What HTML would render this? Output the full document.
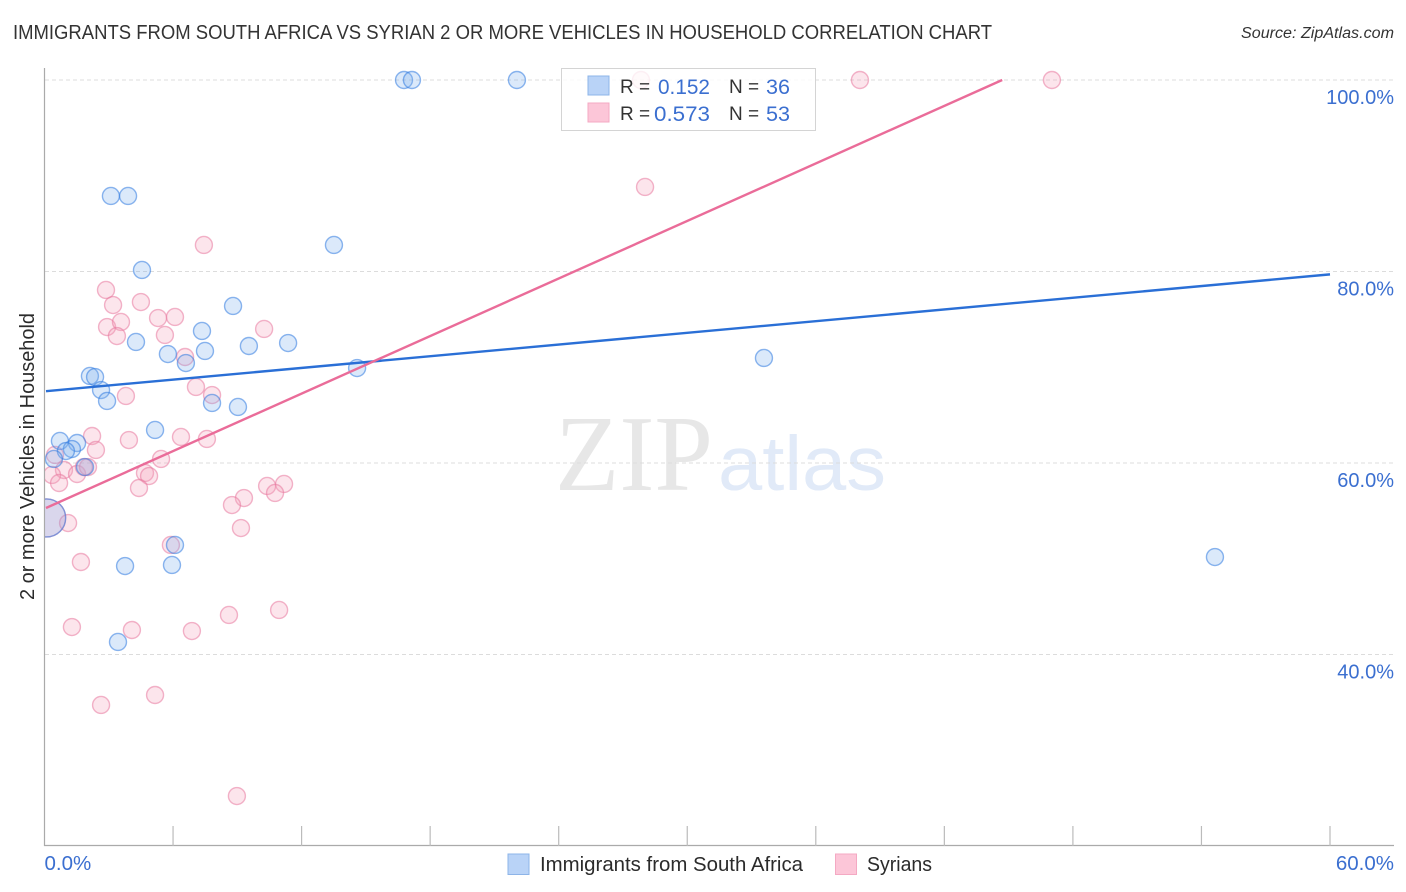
<!DOCTYPE html>
<html lang="en">
<head>
<meta charset="utf-8">
<title>Immigrants from South Africa vs Syrian 2 or more Vehicles in Household Correlation Chart</title>
<style>
html,body{margin:0;padding:0;background:#fff;width:1406px;height:892px;overflow:hidden}
svg{display:block}
text{font-family:"Liberation Sans",sans-serif}
</style>
</head>
<body>
<svg id="chart" width="1406" height="892" viewBox="0 0 1406 892" xmlns="http://www.w3.org/2000/svg">
  <defs>
    <clipPath id="plot-clip"><rect x="45" y="60" width="1349" height="786"/></clipPath>
  </defs>
  <text x="13" y="39" font-size="20" fill="#333" textLength="979" lengthAdjust="spacingAndGlyphs">IMMIGRANTS FROM SOUTH AFRICA VS SYRIAN 2 OR MORE VEHICLES IN HOUSEHOLD CORRELATION CHART</text>
  <text x="1241" y="38" font-size="15.5" font-style="italic" fill="#333" textLength="153" lengthAdjust="spacingAndGlyphs">Source: ZipAtlas.com</text>

  <g>
    <text x="555" y="490" font-size="108" fill="#e7e7e7" textLength="158" lengthAdjust="spacingAndGlyphs" style="font-family:'Liberation Serif',serif">ZIP</text>
    <text x="718" y="490" font-size="77" fill="#e1eaf8" textLength="168" lengthAdjust="spacingAndGlyphs">atlas</text>
  </g>

  <g id="grid"></g>
  <g id="axes"></g>
  <g id="points" clip-path="url(#plot-clip)"></g>
  <g id="trends"></g>

  <g>
    <rect x="561.5" y="68.5" width="254" height="62" fill="#fff" fill-opacity="0.8" stroke="#d4d4d4"/>
    <rect x="588" y="76" width="21" height="19" fill="#b9d3f7" stroke="#8db4e8"/>
    <rect x="588" y="103" width="21" height="19" fill="#fcc6d8" stroke="#f4a9c3"/>
    <text x="620" y="93" font-size="19" fill="#333">R =</text>
    <text x="710" y="94" font-size="21" fill="#3b6fd0" text-anchor="end" textLength="52" lengthAdjust="spacingAndGlyphs">0.152</text>
    <text x="729" y="93" font-size="19" fill="#333">N =</text>
    <text x="766" y="94" font-size="21" fill="#3b6fd0" textLength="24" lengthAdjust="spacingAndGlyphs">36</text>
    <text x="620" y="120" font-size="19" fill="#333">R =</text>
    <text x="710" y="121" font-size="21" fill="#3b6fd0" text-anchor="end" textLength="56" lengthAdjust="spacingAndGlyphs">0.573</text>
    <text x="729" y="120" font-size="19" fill="#333">N =</text>
    <text x="766" y="121" font-size="21" fill="#3b6fd0" textLength="24" lengthAdjust="spacingAndGlyphs">53</text>
  </g>

  <text transform="translate(34,456.5) rotate(-90)" font-size="20" fill="#2b2b2b" text-anchor="middle" textLength="287" lengthAdjust="spacingAndGlyphs">2 or more Vehicles in Household</text>

  <g>
    <rect x="508" y="854" width="21" height="20.5" fill="#b9d3f7" stroke="#8db4e8"/>
    <text x="540" y="871" font-size="20" fill="#2b2b2b" textLength="263" lengthAdjust="spacingAndGlyphs">Immigrants from South Africa</text>
    <rect x="835.5" y="854" width="21" height="20.5" fill="#fcc6d8" stroke="#f4a9c3"/>
    <text x="867" y="871" font-size="20" fill="#2b2b2b" textLength="65" lengthAdjust="spacingAndGlyphs">Syrians</text>
  </g>
</svg>
<script>
const yTickValues = [100, 80, 60, 40];
const yTickLabels = ["100.0%", "80.0%", "60.0%", "40.0%"];
const xTickValues = [6, 12, 18, 24, 30, 36, 42, 48, 54, 60];
const xEndValues = [0, 60];
const xEndLabels = ["0.0%", "60.0%"];

const southAfricaX = [16.78,17.15,22.05,3.10,3.90,13.51,4.55,8.80,7.35,4.27,9.54,11.37,7.49,5.76,6.60,33.58,14.59,2.12,2.36,2.64,2.92,7.82,9.03,5.16,0.72,1.52,1.28,1.00,0.44,1.89,0.10,6.09,5.95,3.76,54.63,3.43];
const southAfricaY = [100,100,100,87.89,87.89,82.77,80.16,76.4,73.79,72.64,72.22,72.53,71.7,71.38,70.44,70.97,69.92,69.09,68.98,67.62,66.48,66.27,65.85,63.45,62.3,62.09,61.46,61.25,60.42,59.58,54.26,51.44,49.35,49.24,50.18,41.31];

const syriansX = [27.84,38.06,47.02,28.03,7.44,2.87,3.20,4.50,5.30,6.09,2.92,3.57,3.38,5.62,10.25,6.56,7.07,7.82,3.80,2.22,3.94,6.37,7.58,2.40,0.49,5.44,0.91,1.52,2.03,4.69,4.88,0.35,0.68,4.41,10.39,11.18,10.76,9.31,8.75,0.10,1.10,9.17,5.90,1.70,10.95,8.61,1.28,4.08,6.88,5.16,2.64,8.98,1.84];
const syriansY = [100,100,100,88.83,82.77,78.07,76.5,76.81,75.14,75.25,74.2,74.73,73.26,73.37,74.0,71.07,67.94,67.1,67.0,62.82,62.4,62.72,62.51,61.36,60.84,60.42,59.27,58.85,59.58,58.96,58.64,58.75,57.91,57.39,57.6,57.81,56.87,56.34,55.61,54.26,53.73,53.21,51.44,49.66,44.65,44.13,42.87,42.56,42.45,35.77,34.73,25.22,59.58];

const southAfricaTrendX = [0.07, 60];
const southAfricaTrendY = [67.5, 79.7];
const syriansTrendX = [0.07, 44.7];
const syriansTrendY = [55.3, 100];

const NS = "http://www.w3.org/2000/svg";
const xScale = v => 44.5 + v * 21.425;
const yScale = v => 80 + (100 - v) * 9.575;

function make(tag, attrs, parent) {
  const el = document.createElementNS(NS, tag);
  for (const k in attrs) el.setAttribute(k, attrs[k]);
  parent.appendChild(el);
  return el;
}

const grid = document.getElementById("grid");
const axes = document.getElementById("axes");
const points = document.getElementById("points");
const trends = document.getElementById("trends");

yTickValues.forEach((v, i) => {
  const line = make("line", {x1: 45, x2: 1394, y1: yScale(v), y2: yScale(v), stroke: "#dcdcdc", "stroke-width": 1, "stroke-dasharray": "4 3"}, grid);
  
  
  const label = make("text", {x: 1394, y: yScale(v) + 24, "font-size": 20, fill: "#3b6fd0", "text-anchor": "end"}, axes);
  
  
  label.textContent = yTickLabels[i];
});

const yAxis = make("line", {x1: 44.5, x2: 44.5, y1: 68, y2: 846, stroke: "#aaa", "stroke-width": 1.2}, axes);


const xAxis = make("line", {x1: 44, x2: 1394, y1: 845.5, y2: 845.5, stroke: "#aaa", "stroke-width": 1.2}, axes);



xTickValues.forEach(v => {
  const tick = make("line", {x1: xScale(v), x2: xScale(v), y1: 826, y2: 846, stroke: "#bbb", "stroke-width": 1.2}, axes);
  
  
});

xEndValues.forEach((v, i) => {
  const label = make("text", {x: i === 0 ? xScale(v) : 1394, y: 870, "font-size": 20.5, fill: "#3b6fd0", "text-anchor": i === 0 ? "start" : "end"}, axes);
  
  
  label.textContent = xEndLabels[i];
});

function drawSeries(xs, ys, fill, stroke, name) {
  xs.forEach((x, i) => {
    const big = x < 0.2;
    const c = make("circle", {cx: xScale(x), cy: yScale(ys[i]), r: big ? 19 : 8.5, fill: fill, "fill-opacity": 0.28, stroke: stroke, "stroke-opacity": 0.55, "stroke-width": 1.4}, points);
    
    
  });
}
drawSeries(syriansX, syriansY, "#f4a0bc", "#e8799f", "syrians-point");
drawSeries(southAfricaX, southAfricaY, "#7fb0ee", "#2f7ae0", "south-africa-point");

const blueTrend = make("line", {x1: xScale(southAfricaTrendX[0]), y1: yScale(southAfricaTrendY[0]), x2: xScale(southAfricaTrendX[1]), y2: yScale(southAfricaTrendY[1]), stroke: "#2a6fd6", "stroke-width": 2.4}, trends);


const pinkTrend = make("line", {x1: xScale(syriansTrendX[0]), y1: yScale(syriansTrendY[0]), x2: xScale(syriansTrendX[1]), y2: yScale(syriansTrendY[1]), stroke: "#ea6c99", "stroke-width": 2.4}, trends);


</script>
</body>
</html>
